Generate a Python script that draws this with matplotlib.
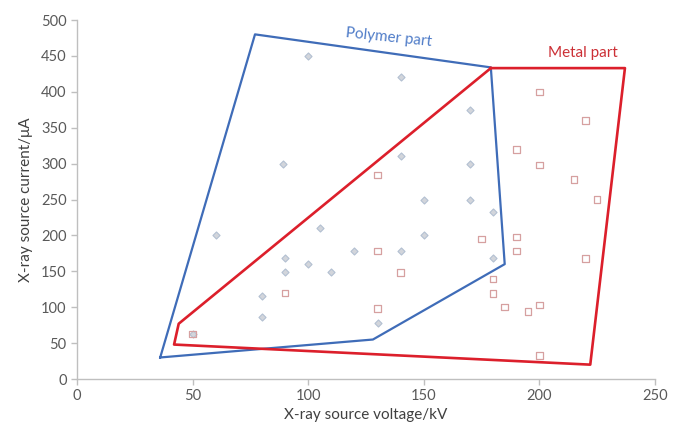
import matplotlib
matplotlib.use("Agg")
import matplotlib.pyplot as plt

plt.rcParams['font.family'] = ['Lato', 'DejaVu Sans']

# boundary polygons (closed by repeating the first vertex)
polymer_x = [36, 77, 179, 185, 128, 36]
polymer_y = [30, 480, 434, 160, 55, 30]
metal_x = [179, 237, 222, 42, 44, 179]
metal_y = [433, 433, 20, 48, 77, 433]

# measured points
polymer_pts_x = [100, 140, 170, 89, 140, 170, 60, 105, 150, 170, 180, 120,
                 140, 150, 90, 90, 100, 110, 180, 80, 80, 130, 50]
polymer_pts_y = [450, 420, 375, 300, 310, 300, 200, 210, 250, 250, 233, 178,
                 178, 200, 168, 149, 160, 149, 168, 115, 87, 78, 63]
metal_pts_x = [200, 220, 190, 200, 130, 215, 225, 175, 190, 190, 130, 220,
               140, 180, 180, 185, 195, 200, 90, 130, 200, 50]
metal_pts_y = [400, 360, 320, 298, 284, 278, 250, 195, 198, 178, 178, 168,
               148, 139, 119, 100, 94, 103, 120, 98, 33, 63]

x_ticks = [0, 50, 100, 150, 200, 250]
y_ticks = [0, 50, 100, 150, 200, 250, 300, 350, 400, 450, 500]

blue = '#3f6cb8'
red = '#dc1f2b'

fig = plt.figure(figsize=(6.86, 4.34), dpi=100)
ax = fig.add_axes([0.1122, 0.1267, 0.8426, 0.8272])

ax.plot(polymer_x, polymer_y, color=blue, linewidth=1.6, zorder=3)
ax.plot(metal_x, metal_y, color=red, linewidth=1.9, zorder=4)

ax.scatter(polymer_pts_x, polymer_pts_y, marker='D', s=13,
           facecolor='#d2d5db', edgecolor='#b3c0d2', linewidth=0.8, zorder=2)
ax.scatter(metal_pts_x, metal_pts_y, marker='s', s=22,
           facecolor='none', edgecolor='#d6a0a0', linewidth=0.9, zorder=2)

ax.text(135, 476, 'Polymer part', color='#4f7cc8', fontsize=11,
        ha='center', va='center', rotation=-6)
ax.text(219, 454, 'Metal part', color='#cc3036', fontsize=11,
        ha='center', va='center')

ax.set_xlim(0, 250)
ax.set_ylim(0, 500)
ax.set_xticks(x_ticks)
ax.set_yticks(y_ticks)
ax.tick_params(colors='#bfbfbf', labelcolor='#595959', labelsize=10.5,
               length=4, width=1, direction='out')

for side in ['top', 'right']:
    ax.spines[side].set_visible(False)
for side in ['left', 'bottom']:
    ax.spines[side].set_color('#bfbfbf')
    ax.spines[side].set_linewidth(1)

ax.set_xlabel('X-ray source voltage/kV', fontsize=11, color='#404040', labelpad=3)
ax.set_ylabel('X-ray source current/\u03bcA', fontsize=11, color='#404040', labelpad=6)

fig.savefig('out.png', dpi=100, facecolor='white')
